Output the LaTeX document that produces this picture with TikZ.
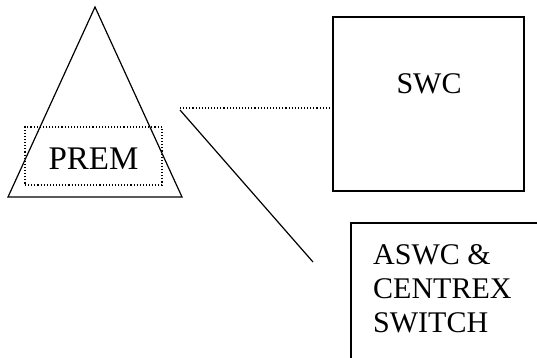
\documentclass[tikz,border=0pt]{standalone}
\usepackage{fontspec}
\setmainfont{Liberation Serif}
\begin{document}
\begin{tikzpicture}[x=1pt,y=-1pt,
  line/.style={line width=1.2pt},
  dotline/.style={line width=1.1pt, dotted},
  lbl/.style={font=\fontsize{30}{34}\selectfont, inner sep=0pt},
  box/.style={draw, line width=1.2pt, inner sep=0pt}]
\useasboundingbox (0,0) rectangle (537,358);
% triangle
\coordinate (apex) at (95,7);
\coordinate (bl) at (8,197);
\coordinate (br) at (182,197);
\draw[line, line join=miter] (apex) -- (bl) -- (br) -- cycle;
% dotted box in triangle
\node (prembox) [draw, dotted, line width=1.1pt, minimum width=137pt, minimum height=58pt, inner sep=0pt] at (93.5,156) {};
\node (prem) [lbl, font=\fontsize{33}{36}\selectfont, anchor=base] at (93.5,169) {PREM};
% SWC box
\node (swc) [box, minimum width=191pt, minimum height=174pt] at (428.5,104) {};
\node (swcl) [lbl, anchor=base] at (429,94) {SWC};
% ASWC box (clipped at right and bottom)
\coordinate (atl) at (351,223);
\coordinate (atr) at (537,223);
\coordinate (abl) at (351,358);
\draw[line] (atr) -- (atl) -- (abl);
\node (aswc) [lbl, anchor=base west, align=left] at (373,332) {ASWC \&\\CENTREX\\SWITCH};
% connectors
\coordinate (d1) at (180,108);
\draw[dotline] (d1) -- (d1 -| swc.west);
\coordinate (s1) at (180,110);
\coordinate (s2) at (313,262);
\draw[line] (s1) -- (s2);
\end{tikzpicture}
\end{document}
